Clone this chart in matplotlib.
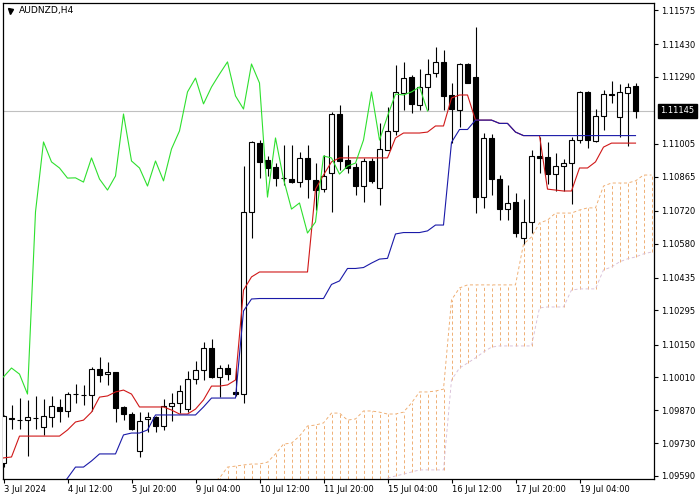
import numpy as np
import matplotlib
matplotlib.use("Agg")
import matplotlib.pyplot as plt
from matplotlib.transforms import blended_transform_factory

# ---------------- data (AUDNZD, H4) ----------------
symbol_title = "AUDNZD,H4"
current_price = 1.11145
ichimoku_shift = 26

opens = [1.09645, 1.09833, 1.09828, 1.09828, 1.09837, 1.09799, 1.09841, 1.09884, 1.09867, 1.09939,
         1.09935, 1.09935, 1.10046, 1.10024, 1.10033, 1.09884, 1.09854, 1.09696, 1.09833, 1.09841,
         1.09803, 1.09888, 1.09901, 1.09875, 1.10003, 1.10041, 1.10135, 1.10012, 1.10050, 1.09948,
         1.09939, 1.10715, 1.11008, 1.10936, 1.10906, 1.10859, 1.10855, 1.10842, 1.10945, 1.10851,
         1.10812, 1.10881, 1.11132, 1.10936, 1.10906, 1.10825, 1.10932, 1.10817, 1.10979, 1.11060,
         1.11221, 1.11290, 1.11170, 1.11247, 1.11307, 1.11354, 1.11213, 1.11149, 1.11345, 1.11290,
         1.10778, 1.11030, 1.10855, 1.10727, 1.10757, 1.10604, 1.10672, 1.10953, 1.10949, 1.10876,
         1.10910, 1.10923, 1.11021, 1.11226, 1.11017, 1.11123, 1.11217, 1.11119, 1.11221, 1.11251]

highs = [1.09850, 1.09892, 1.09922, 1.09914, 1.09931, 1.09918, 1.09931, 1.09918, 1.09948, 1.09982,
         1.09978, 1.10054, 1.10097, 1.10075, 1.10035, 1.09888, 1.09862, 1.09862, 1.09862, 1.09845,
         1.09918, 1.09943, 1.09978, 1.10037, 1.10080, 1.10161, 1.10173, 1.10063, 1.10067, 1.10050,
         1.10910, 1.11017, 1.11021, 1.10953, 1.10923, 1.11000, 1.11000, 1.10970, 1.11000, 1.10923,
         1.10957, 1.11140, 1.11170, 1.11000, 1.10923, 1.10945, 1.10945, 1.11094, 1.11162, 1.11341,
         1.11354, 1.11298, 1.11324, 1.11366, 1.11417, 1.11405, 1.11264, 1.11349, 1.11349, 1.11503,
         1.11051, 1.11047, 1.10872, 1.10830, 1.10795, 1.10770, 1.10979, 1.11034, 1.11013, 1.10966,
         1.10940, 1.11034, 1.11230, 1.11230, 1.11153, 1.11234, 1.11273, 1.11260, 1.11264, 1.11264]

lows = [1.09628, 1.09790, 1.09790, 1.09675, 1.09790, 1.09765, 1.09799, 1.09820, 1.09841, 1.09901,
        1.09892, 1.09867, 1.09990, 1.09978, 1.09820, 1.09828, 1.09786, 1.09671, 1.09777, 1.09777,
        1.09786, 1.09824, 1.09858, 1.09862, 1.09982, 1.09999, 1.10007, 1.09926, 1.09999, 1.09931,
        1.09901, 1.10604, 1.10859, 1.10868, 1.10825, 1.10830, 1.10838, 1.10821, 1.10774, 1.10723,
        1.10800, 1.10715, 1.10893, 1.10881, 1.10787, 1.10757, 1.10838, 1.10744, 1.10977, 1.11042,
        1.11149, 1.11136, 1.11149, 1.11149, 1.11290, 1.11149, 1.11008, 1.11077, 1.11264, 1.10710,
        1.10732, 1.10787, 1.10680, 1.10680, 1.10608, 1.10578, 1.10625, 1.10881, 1.10834, 1.10804,
        1.10804, 1.10749, 1.11008, 1.10987, 1.11013, 1.11064, 1.11179, 1.11034, 1.10996, 1.11115]

closes = [1.09845, 1.09837, 1.09829, 1.09841, 1.09837, 1.09845, 1.09888, 1.09867, 1.09939, 1.09939,
          1.09935, 1.10046, 1.10020, 1.10033, 1.09880, 1.09854, 1.09790, 1.09824, 1.09841, 1.09803,
          1.09888, 1.09901, 1.09952, 1.10003, 1.10041, 1.10135, 1.10012, 1.10050, 1.10024, 1.09939,
          1.10715, 1.11013, 1.10928, 1.10902, 1.10859, 1.10860, 1.10842, 1.10945, 1.10855, 1.10808,
          1.10868, 1.11132, 1.10932, 1.10902, 1.10825, 1.10932, 1.10847, 1.10983, 1.11060, 1.11226,
          1.11285, 1.11175, 1.11247, 1.11302, 1.11354, 1.11209, 1.11153, 1.11345, 1.11264, 1.10778,
          1.11030, 1.10855, 1.10727, 1.10753, 1.10625, 1.10672, 1.10953, 1.10945, 1.10876, 1.10910,
          1.10923, 1.11021, 1.11226, 1.11021, 1.11123, 1.11217, 1.11213, 1.11226, 1.11247, 1.11145]

tenkan = [1.09667, 1.09671, 1.09760, 1.09760, 1.09760, 1.09760, 1.09760, 1.09760, 1.09786, 1.09820,
          1.09828, 1.09862, 1.09926, 1.09931, 1.09948, 1.09956, 1.09939, 1.09884, 1.09884, 1.09884,
          1.09884, 1.09871, 1.09854, 1.09854, 1.09875, 1.09914, 1.09973, 1.09973, 1.09978, 1.09999,
          1.10382, 1.10438, 1.10459, 1.10459, 1.10459, 1.10459, 1.10459, 1.10459, 1.10459, 1.10812,
          1.10872, 1.10928, 1.10945, 1.10945, 1.10945, 1.10945, 1.10945, 1.10945, 1.10945, 1.11030,
          1.11051, 1.11051, 1.11051, 1.11055, 1.11081, 1.11081, 1.11200, 1.11213, 1.11213, 1.11106,
          1.11106, 1.11106, 1.11092, 1.11092, 1.11055, 1.11040, 1.11040, 1.11040, 1.10812, 1.10808,
          1.10804, 1.10804, 1.10902, 1.10902, 1.10928, 1.10991, 1.11008, 1.11008, 1.11008, 1.11008]

kijun = [None, None, None, None, None, None, None, 1.09539, 1.09581, 1.09628,
         1.09628, 1.09654, 1.09684, 1.09684, 1.09684, 1.09765, 1.09773, 1.09773, 1.09786, 1.09850,
         1.09850, 1.09850, 1.09850, 1.09850, 1.09850, 1.09884, 1.09922, 1.09922, 1.09922, 1.09922,
         1.10293, 1.10344, 1.10346, 1.10346, 1.10346, 1.10346, 1.10346, 1.10346, 1.10346, 1.10346,
         1.10346, 1.10406, 1.10421, 1.10474, 1.10474, 1.10478, 1.10497, 1.10514, 1.10517, 1.10621,
         1.10627, 1.10627, 1.10627, 1.10634, 1.10659, 1.10659, 1.11011, 1.11066, 1.11066, 1.11106,
         1.11106, 1.11106, 1.11092, 1.11092, 1.11055, 1.11040, 1.11040, 1.11040, 1.11040, 1.11040,
         1.11040, 1.11040, 1.11040, 1.11040, 1.11040, 1.11040, 1.11040, 1.11040, 1.11040, 1.11040]

# Senkou spans, already shifted forward: first value belongs to bar 26
senkou_a = [1.09560, 1.09581, 1.09628, 1.09632, 1.09637, 1.09641, 1.09641, 1.09649, 1.09684, 1.09726,
            1.09730, 1.09760, 1.09803, 1.09807, 1.09816, 1.09858, 1.09858, 1.09828, 1.09833, 1.09867,
            1.09867, 1.09862, 1.09854, 1.09854, 1.09862, 1.09901, 1.09948, 1.09948, 1.09952, 1.09960,
            1.10340, 1.10391, 1.10404, 1.10404, 1.10404, 1.10404, 1.10404, 1.10404, 1.10404, 1.10578,
            1.10608, 1.10668, 1.10680, 1.10710, 1.10710, 1.10710, 1.10723, 1.10732, 1.10732, 1.10825,
            1.10838, 1.10838, 1.10838, 1.10847, 1.10872, 1.10872]
senkou_b = [None, None, None, None, None, None, None, None, None, None,
            None, None, None, None, None, None, None, None, None, None,
            None, None, 1.09581, 1.09590, 1.09598, 1.09607, 1.09616, 1.09616, 1.09616, 1.09616,
            1.09999, 1.10050, 1.10071, 1.10093, 1.10118, 1.10139, 1.10144, 1.10144, 1.10144, 1.10144,
            1.10144, 1.10306, 1.10310, 1.10310, 1.10310, 1.10382, 1.10387, 1.10387, 1.10387, 1.10468,
            1.10480, 1.10502, 1.10515, 1.10523, 1.10536, 1.10544]

price_ticks = [1.11575, 1.11430, 1.11290, 1.11005, 1.10865, 1.10720, 1.10580,
               1.10435, 1.10295, 1.10150, 1.10010, 1.09870, 1.09730, 1.09590]
time_labels = ["3 Jul 2024", "4 Jul 12:00", "5 Jul 20:00", "9 Jul 04:00", "10 Jul 12:00",
               "11 Jul 20:00", "15 Jul 04:00", "16 Jul 12:00", "17 Jul 20:00", "19 Jul 04:00"]
time_label_bars = [0, 8, 16, 24, 32, 40, 48, 56, 64, 72]

# ---------------- styling ----------------
C_TENKAN = "#d01818"
C_KIJUN = "#1a1aa8"
C_CHIKOU = "#2ee02e"
C_SPAN_A = "#eeaa6c"
C_SPAN_B = "#d8bfd8"
FS = 6.0

fig = plt.figure(figsize=(7, 5), dpi=100)
W, H = 700.0, 500.0
left_px, right_px, top_px, bot_px = 2.7, 654.3, 2.7, 479.0
ax = fig.add_axes([left_px / W, 1 - bot_px / H, (right_px - left_px) / W, (bot_px - top_px) / H])
ax.set_facecolor("white")

o = np.array(opens); h = np.array(highs); l = np.array(lows); c = np.array(closes)
x = np.arange(len(c))
ylo, yhi = 1.095772, 1.116061
ax.set_xlim(-0.1, 81.35)
ax.set_ylim(ylo, yhi)

# current price line
ax.axhline(current_price, color="#c0c0c0", lw=0.8, zorder=1)

# cloud
sa = np.array(senkou_a, dtype=float)
sb = np.array(senkou_b, dtype=float)
xc = np.arange(ichimoku_shift, ichimoku_shift + len(sa))
lower = np.where(np.isnan(sb), ylo, sb)
dash = (0, (3.4, 2.8))
ax.vlines(xc, lower, sa, colors=C_SPAN_A, linestyles=dash, lw=0.65, zorder=2)
ax.plot(xc, sa, color=C_SPAN_A, ls=dash, lw=0.65, zorder=2)
ax.plot(xc, sb, color=C_SPAN_B, ls=dash, lw=0.65, zorder=2)

# candles
ax.vlines(x, l, h, colors="black", lw=0.8, zorder=3)
bull = c >= o
body_lo = np.minimum(o, c)
body_h = np.maximum(np.abs(c - o), 0.000008)
ax.bar(x, body_h, bottom=body_lo, width=0.62,
       color=np.where(bull, "white", "black"), edgecolor="black", lw=0.8, zorder=4)

# Ichimoku lines
ax.plot(x, tenkan, color=C_TENKAN, lw=0.8, zorder=5)
ax.plot(x, np.array(kijun, dtype=float), color=C_KIJUN, lw=0.8, zorder=6)
ax.plot(x[:len(c) - ichimoku_shift], c[ichimoku_shift:], color=C_CHIKOU, lw=0.8, zorder=5)

# axes / ticks
for s in ax.spines.values():
    s.set_color("black"); s.set_linewidth(0.9)
ax.yaxis.tick_right()
ax.set_yticks(price_ticks)
ax.set_yticklabels([f"{p:.5f}" for p in price_ticks])
ax.tick_params(axis="y", direction="out", length=3, width=0.8, pad=1.8, labelsize=FS,
               colors="black", left=False)
ax.set_xticks(time_label_bars)
ax.set_xticklabels(time_labels, ha="left")
ax.tick_params(axis="x", direction="out", length=3, width=0.8, pad=1.5, labelsize=FS,
               colors="black")
for lab in ax.get_xticklabels():
    lab.set_horizontalalignment("left")

# current price tag
tr = blended_transform_factory(ax.transAxes, ax.transData)
ax.text(1.0 + 6.0 / (right_px - left_px), current_price, f"{current_price:.5f}", transform=tr,
        ha="left", va="center", color="white", fontsize=FS, zorder=10, clip_on=False,
        bbox=dict(boxstyle="square,pad=0.3", facecolor="black", edgecolor="black"))

# title
def ax_frac(px, py):
    return ((px - left_px) / (right_px - left_px), 1 - (py - top_px) / (bot_px - top_px))

tx, ty = ax_frac(9.5, 10.8)
ax.plot([tx], [ty], marker="v", ms=3.6, color="black", transform=ax.transAxes, clip_on=False, zorder=10)
tx, ty = ax_frac(18.5, 11.0)
ax.text(tx, ty, symbol_title, transform=ax.transAxes, ha="left", va="center",
        fontsize=6.6, color="black", zorder=10)

fig.savefig("out.png", dpi=100, facecolor="white")
